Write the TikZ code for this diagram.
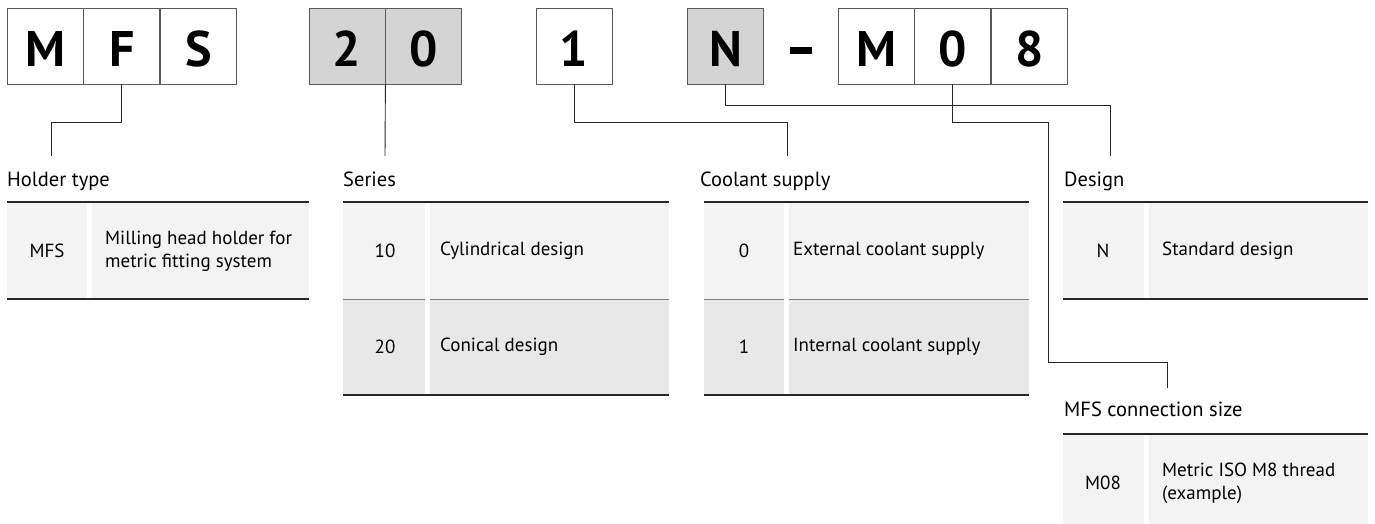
\documentclass[tikz,border=0pt]{standalone}
\usepackage{fontspec}
\setmainfont{PT Sans}
\usepackage{tikz}
\usetikzlibrary{positioning}

\definecolor{boxgray}{RGB}{212,212,212}
\definecolor{rowa}{RGB}{243,243,243}
\definecolor{rowb}{RGB}{232,232,232}
\definecolor{rulegray}{RGB}{40,40,40}

\begin{document}
\begin{tikzpicture}[x=1pt, y=-1pt,
    letterbox/.style={draw=black!65, line width=0.8pt, minimum width=76pt, minimum height=76pt,
      inner sep=0pt, text height=42pt, text depth=0pt, font=\fontsize{50}{50}\selectfont\bfseries},
    lead/.style={black!85, line width=0.9pt},
    heading/.style={anchor=base west, inner sep=0pt, font=\fontsize{20.5}{24}\selectfont},
    code/.style={inner sep=0pt, font=\fontsize{19}{23}\selectfont},
    desc/.style={anchor=west, align=left, inner sep=0pt, font=\fontsize{19}{23}\selectfont}]
  \useasboundingbox (0,0) rectangle (1375,524);

  % type code boxes
  \node[letterbox] (cM) at (45,46) {M};
  \node[letterbox, right=0pt of cM] (cF) {F};
  \node[letterbox, right=0pt of cF] (cS) {S};
  \node[letterbox, fill=boxgray] (c2) at (347,46) {2};
  \node[letterbox, fill=boxgray, right=0pt of c2] (c0) {0};
  \node[letterbox] (c1) at (574,46) {1};
  \node[letterbox, fill=boxgray] (cN) at (725.5,46) {N};
  \node[fill=black, minimum width=22pt, minimum height=6.5pt, inner sep=0pt] (hyph) at (801,50.5) {};
  \node[letterbox] (cMb) at (876,46) {M};
  \node[letterbox, right=0pt of cMb] (c0b) {0};
  \node[letterbox, right=0pt of c0b] (c8) {8};

  % headings
  \node[heading] (tHolder) at (7,186) {Holder type};
  \node[heading] (tSeries) at (343,186) {Series};
  \node[heading] (tCool) at (700,186) {Coolant supply};
  \node[heading] (tDesign) at (1064,186) {Design};
  \node[heading] (tConn) at (1064,416) {MFS connection size};

  % leader lines
  \coordinate (eHolder) at (51,156);
  \coordinate (eSeries) at (385,156);
  \coordinate (eCool) at (787,156);
  \coordinate (eDesign) at (1110,156);
  \coordinate (eConn) at (1167,388);
  \draw[lead] (cF.south) -- ++(0,38) -| (eHolder);
  \draw[lead] (c2.south east) -- (eSeries);
  \draw[lead] (c1.south) -- ++(0,38) -| (eCool);
  \draw[lead] (cN.south) -- ++(0,21) -| (eDesign);
  \draw[lead] (c0b.south) -- ++(0,38) -| (1048,362) -| (eConn);

  % tables
  \foreach \xa/\xb/\ya/\yb/\shade in {7/309/202/299/rowa, 343/669/202/299/rowa, 343/669/299/395/rowb,
      704/1029/202/299/rowa, 704/1029/299/395/rowb, 1063/1368/202/299/rowa, 1063/1368/434/524/rowa}
    \fill[\shade] (\xa,\ya) rectangle (\xb,\yb);
  \foreach \xa/\xb in {343/669, 704/1029}
    \draw[black!50, line width=1pt] (\xa,299) -- (\xb,299);
  \foreach \xa/\ya/\yb in {87/202/299, 425/202/395, 784/202/395, 1144/202/299, 1144/434/524}
    \fill[white] (\xa,\ya) rectangle (\xa+4.5,\yb);
  \foreach \xa/\xb/\ya in {7/309/202, 7/309/299, 343/669/202, 343/669/395, 704/1029/202, 704/1029/395,
      1063/1368/202, 1063/1368/299, 1063/1368/434}
    \draw[rulegray, line width=2.6pt] (\xa,\ya) -- (\xb,\ya);

  % table entries
  \node[code] (kMFS) at (47,251) {MFS};
  \node[desc] (dMFS) at (105,251) {Milling head holder for\\metric fitting system};
  \node[code] (k10) at (385,251) {10};
  \node[desc] (d10) at (440,251) {Cylindrical design};
  \node[code] (k20) at (385,347) {20};
  \node[desc] (d20) at (440,347) {Conical design};
  \node[code] (kExt) at (744,251) {0};
  \node[desc] (dExt) at (793,251) {External coolant supply};
  \node[code] (kInt) at (744,347) {1};
  \node[desc] (dInt) at (793,347) {Internal coolant supply};
  \node[code] (kN) at (1103,251) {N};
  \node[desc] (dN) at (1162,251) {Standard design};
  \node[code] (kM08) at (1103,483) {M08};
  \node[desc] (dM08) at (1162,483) {Metric ISO M8 thread\\(example)};
\end{tikzpicture}
\end{document}
